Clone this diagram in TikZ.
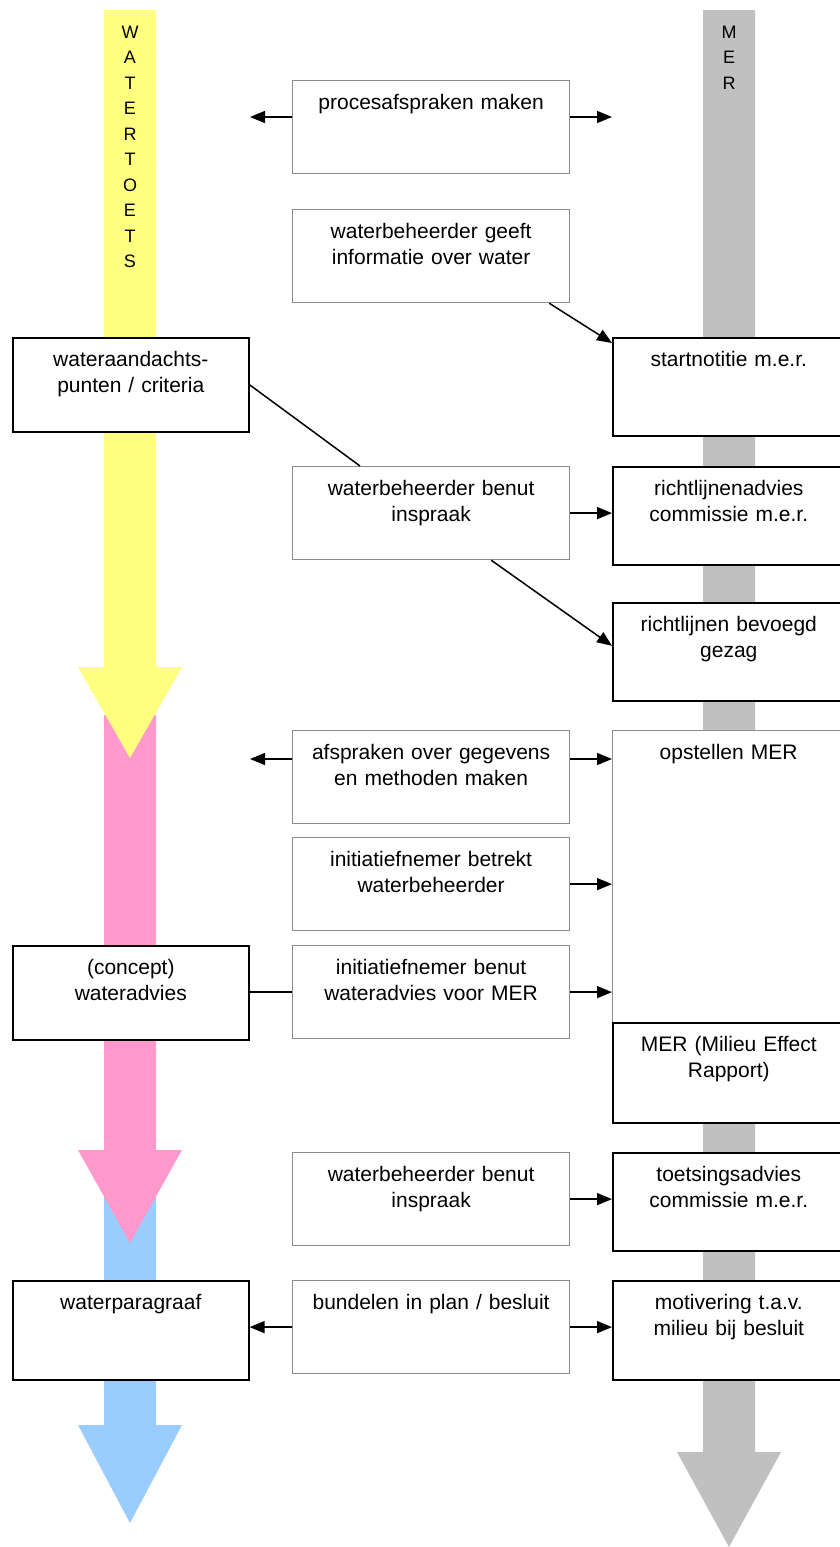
\documentclass[tikz,border=0pt]{standalone}
\usepackage{fontspec}
\setmainfont{Liberation Sans}
\usetikzlibrary{arrows.meta,calc}
\definecolor{wateryellow}{HTML}{FFFF80}
\definecolor{waterpink}{HTML}{FF99CC}
\definecolor{waterblue}{HTML}{99CCFF}
\definecolor{mergray}{HTML}{C0C0C0}
\definecolor{boxgray}{HTML}{8C8C8C}
\tikzset{
  box/.style={draw, fill=white, line width=1.6pt, anchor=north west, inner sep=0pt,
    align=center, text height=29pt, font=\fontsize{21}{26}\selectfont},
  cbox/.style={box, draw=boxgray, line width=1.2pt, text width=277pt, text depth=64pt},
  lbox/.style={box, text width=236pt, text depth=65pt},
  rbox/.style={box, text width=232pt, text depth=69pt},
  arr/.style={-{Triangle[length=15pt,width=12pt]}, line width=1.5pt},
  link/.style={line width=1.5pt},
  bartext/.style={anchor=base, text width=30pt, align=center, inner sep=0pt,
    font=\fontsize{18}{25.5}\selectfont},
}
\begin{document}
\begin{tikzpicture}[x=1pt,y=-1pt]
  \useasboundingbox (0,0) rectangle (839,1547);
  % broad arrows: watertoets (left) and m.e.r. (right)
  \foreach \col/\start/\neck/\tip in {waterblue/1197/1425/1523, waterpink/715/1150/1243, wateryellow/10/667/758}
    \fill[\col] (104,\start) -- (156,\start) -- (156,\neck) -- (182,\neck) -- (130,\tip)
      -- (78,\neck) -- (104,\neck) -- cycle;
  \fill[mergray] (703,10) -- (755,10) -- (755,1452) -- (781,1452) -- (729,1547)
    -- (677,1452) -- (703,1452) -- cycle;
  \node[bartext] (wtlabel) at (130,38) {W\\A\\T\\E\\R\\T\\O\\E\\T\\S};
  \node[bartext] (merlabel) at (729,38) {M\\E\\R};

  % middle column
  \node[cbox] (afspraak) at (292,80) {procesafspraken maken};
  \node[cbox] (info) at (292,209) {waterbeheerder geeft\\informatie over water};
  \node[cbox] (inspraak) at (292,466) {waterbeheerder benut\\inspraak};
  \node[cbox] (gegevens) at (292,730) {afspraken over gegevens\\en methoden maken};
  \node[cbox] (betrekt) at (292,837) {initiatiefnemer betrekt\\waterbeheerder};
  \node[cbox] (benut) at (292,945) {initiatiefnemer benut\\wateradvies voor MER};
  \node[cbox] (inspraakb) at (292,1152) {waterbeheerder benut\\inspraak};
  \node[cbox] (bundel) at (292,1280) {bundelen in plan / besluit};

  % left column
  \node[lbox] (criteria) at (12,337) {wateraandachts-\\punten / criteria};
  \node[lbox] (advies) at (12,945) {(concept)\\wateradvies};
  \node[lbox, text depth=70pt] (paragraaf) at (12,1280) {waterparagraaf};

  % right column
  \node[rbox] (start) at (612,337) {startnotitie m.e.r.};
  \node[rbox] (richtc) at (612,466) {richtlijnenadvies\\commissie m.e.r.};
  \node[rbox] (richtb) at (612,602) {richtlijnen bevoegd\\gezag};
  \node[rbox, draw=boxgray, line width=1.2pt, text depth=263pt] (opstel) at (612,730) {opstellen MER};
  \node[rbox, text depth=71pt] (mer) at (612,1022) {MER (Milieu Effect\\Rapport)};
  \node[rbox] (toets) at (612,1152) {toetsingsadvies\\commissie m.e.r.};
  \node[rbox, text depth=70pt] (motiv) at (612,1280) {motivering t.a.v.\\milieu bij besluit};

  % connectors
  \coordinate (pl) at (250,117);
  \coordinate (pr) at (612,117);
  \draw[arr] (afspraak.west |- pl) -- (pl);
  \draw[arr] (afspraak.east |- pr) -- (pr);
  \draw[arr] ($(info.south east)+(-21,0)$) -- ($(start.north west)+(0,6)$);
  \draw[link] (criteria.east) -- ($(inspraak.north west)+(68,0)$);
  \draw[arr] (inspraak.east) -- (inspraak.east -| richtc.west);
  \draw[arr] ($(inspraak.south east)+(-79,0)$) -- ($(richtb.west)+(0,-6)$);
  \coordinate (gl) at (250,759);
  \coordinate (gr) at (612,759);
  \draw[arr] (gegevens.west |- gl) -- (gl);
  \draw[arr] (gegevens.east |- gr) -- (gr);
  \draw[arr] (betrekt.east) -- (betrekt.east -| opstel.west);
  \draw[link] (benut.west) -- (benut.west -| advies.east);
  \draw[arr] (benut.east) -- (benut.east -| opstel.west);
  \draw[arr] (inspraakb.east) -- (inspraakb.east -| toets.west);
  \draw[arr] (bundel.west) -- (bundel.west -| paragraaf.east);
  \draw[arr] (bundel.east) -- (bundel.east -| motiv.west);
\end{tikzpicture}
\end{document}
